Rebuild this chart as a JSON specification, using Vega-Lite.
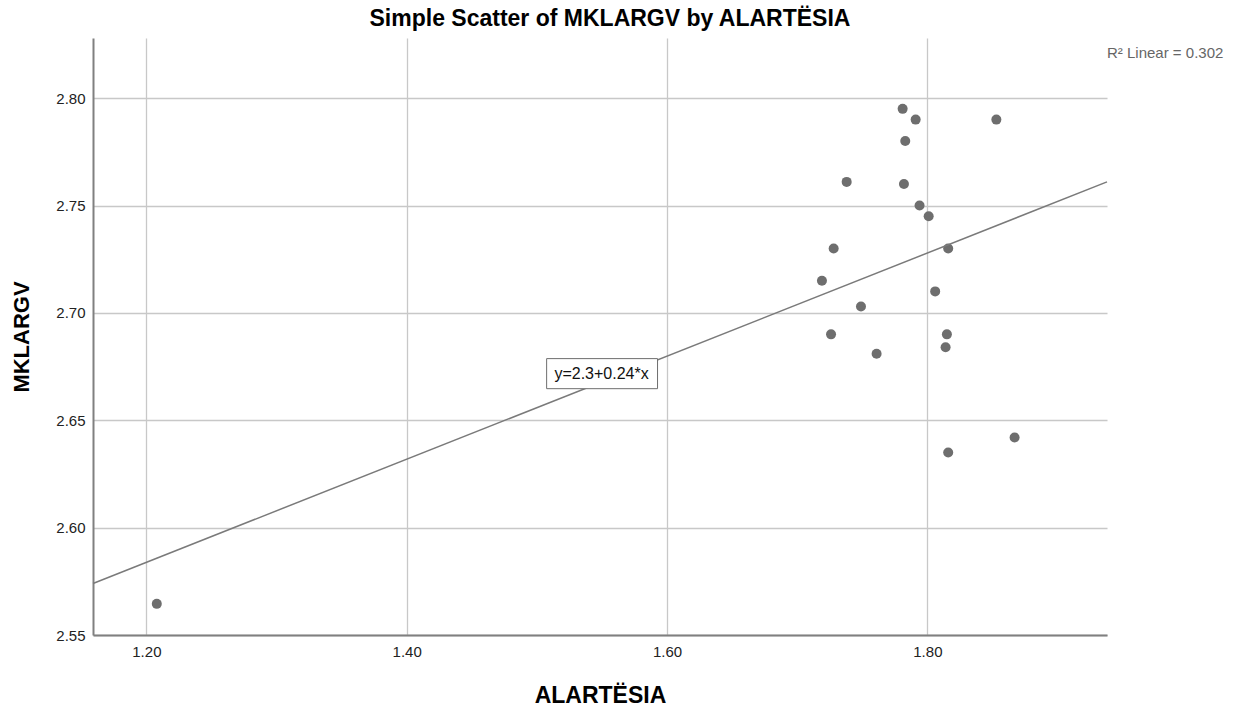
{
  "$schema": "https://vega.github.io/schema/vega-lite/v6.json",
  "width": 1014,
  "height": 597,
  "autosize": {"type": "none"},
  "padding": {"left": 93, "top": 38, "right": 140, "bottom": 76},
  "background": "white",
  "config": {
    "font": "Liberation Sans",
    "view": {"stroke": null},
    "axis": {"labelFont": "Liberation Sans", "titleFont": "Liberation Sans"}
  },
  "title": {
    "text": "Simple Scatter of MKLARGV by ALARTËSIA",
    "fontSize": 23,
    "fontWeight": "bold",
    "color": "#000000",
    "anchor": "middle",
    "dx": 10,
    "offset": 7
  },
  "datasets": {
    "points": [
      {"ALARTESIA": 1.781, "MKLARGV": 2.795},
      {"ALARTESIA": 1.791, "MKLARGV": 2.790},
      {"ALARTESIA": 1.853, "MKLARGV": 2.790},
      {"ALARTESIA": 1.783, "MKLARGV": 2.780},
      {"ALARTESIA": 1.738, "MKLARGV": 2.761},
      {"ALARTESIA": 1.782, "MKLARGV": 2.760},
      {"ALARTESIA": 1.794, "MKLARGV": 2.750},
      {"ALARTESIA": 1.801, "MKLARGV": 2.745},
      {"ALARTESIA": 1.728, "MKLARGV": 2.730},
      {"ALARTESIA": 1.816, "MKLARGV": 2.730},
      {"ALARTESIA": 1.719, "MKLARGV": 2.715},
      {"ALARTESIA": 1.806, "MKLARGV": 2.710},
      {"ALARTESIA": 1.749, "MKLARGV": 2.703},
      {"ALARTESIA": 1.726, "MKLARGV": 2.690},
      {"ALARTESIA": 1.815, "MKLARGV": 2.690},
      {"ALARTESIA": 1.814, "MKLARGV": 2.684},
      {"ALARTESIA": 1.761, "MKLARGV": 2.681},
      {"ALARTESIA": 1.867, "MKLARGV": 2.642},
      {"ALARTESIA": 1.816, "MKLARGV": 2.635},
      {"ALARTESIA": 1.208, "MKLARGV": 2.5645}
    ],
    "fitline": [
      {"ALARTESIA": 1.159, "MKLARGV": 2.574},
      {"ALARTESIA": 1.938, "MKLARGV": 2.761}
    ],
    "fitlabel": [
      {"label": "y=2.3+0.24*x", "x": 1.5497, "y": 2.6717, "xa": 1.5075, "xb": 1.5927, "ya": 2.6647, "yb": 2.6787}
    ],
    "r2": [
      {"label": "R² Linear = 0.302", "x": 1.938, "y": 2.8187}
    ]
  },
  "layer": [
    {
      "data": {"name": "points"},
      "mark": {"type": "point", "filled": true, "opacity": 1, "size": 100, "color": "#6e6e6e"},
      "encoding": {
        "x": {
          "field": "ALARTESIA",
          "type": "quantitative",
          "scale": {"domain": [1.159, 1.938], "nice": false, "zero": false},
          "axis": {
            "title": "ALARTËSIA",
            "values": [1.2, 1.4, 1.6, 1.8],
            "format": ".2f",
            "ticks": false,
            "labelPadding": 9,
            "labelFontSize": 15,
            "labelColor": "#222222",
            "titleFontSize": 23,
            "titleFontWeight": "bold",
            "titleColor": "#000000",
            "titlePadding": 25,
            "domainColor": "#808080",
            "domainWidth": 2,
            "grid": true,
            "gridColor": "#c8c8c8",
            "gridWidth": 1.3
          }
        },
        "y": {
          "field": "MKLARGV",
          "type": "quantitative",
          "scale": {"domain": [2.55, 2.828], "nice": false, "zero": false},
          "axis": {
            "title": "MKLARGV",
            "values": [2.55, 2.6, 2.65, 2.7, 2.75, 2.8],
            "format": ".2f",
            "ticks": false,
            "labelPadding": 8,
            "labelFontSize": 15,
            "labelColor": "#222222",
            "titleFontSize": 22,
            "titleFontWeight": "bold",
            "titleColor": "#000000",
            "titlePadding": 22,
            "domainColor": "#808080",
            "domainWidth": 2,
            "grid": true,
            "gridColor": "#c8c8c8",
            "gridWidth": 1.3
          }
        }
      }
    },
    {
      "data": {"name": "fitline"},
      "mark": {"type": "line", "color": "#7a7a7a", "strokeWidth": 1.5},
      "encoding": {
        "x": {"field": "ALARTESIA", "type": "quantitative"},
        "y": {"field": "MKLARGV", "type": "quantitative"}
      }
    },
    {
      "data": {"name": "fitlabel"},
      "mark": {"type": "rect", "fill": "white", "stroke": "#6e6e6e", "strokeWidth": 1},
      "encoding": {
        "x": {"field": "xa", "type": "quantitative"},
        "x2": {"field": "xb"},
        "y": {"field": "ya", "type": "quantitative"},
        "y2": {"field": "yb"}
      }
    },
    {
      "data": {"name": "fitlabel"},
      "mark": {"type": "text", "fontSize": 16, "color": "#111111", "align": "center", "baseline": "middle"},
      "encoding": {
        "x": {"field": "x", "type": "quantitative"},
        "y": {"field": "y", "type": "quantitative"},
        "text": {"field": "label"}
      }
    },
    {
      "data": {"name": "r2"},
      "mark": {"type": "text", "fontSize": 15, "color": "#666666", "align": "left", "baseline": "alphabetic", "clip": false},
      "encoding": {
        "x": {"field": "x", "type": "quantitative"},
        "y": {"field": "y", "type": "quantitative"},
        "text": {"field": "label"}
      }
    }
  ]
}
